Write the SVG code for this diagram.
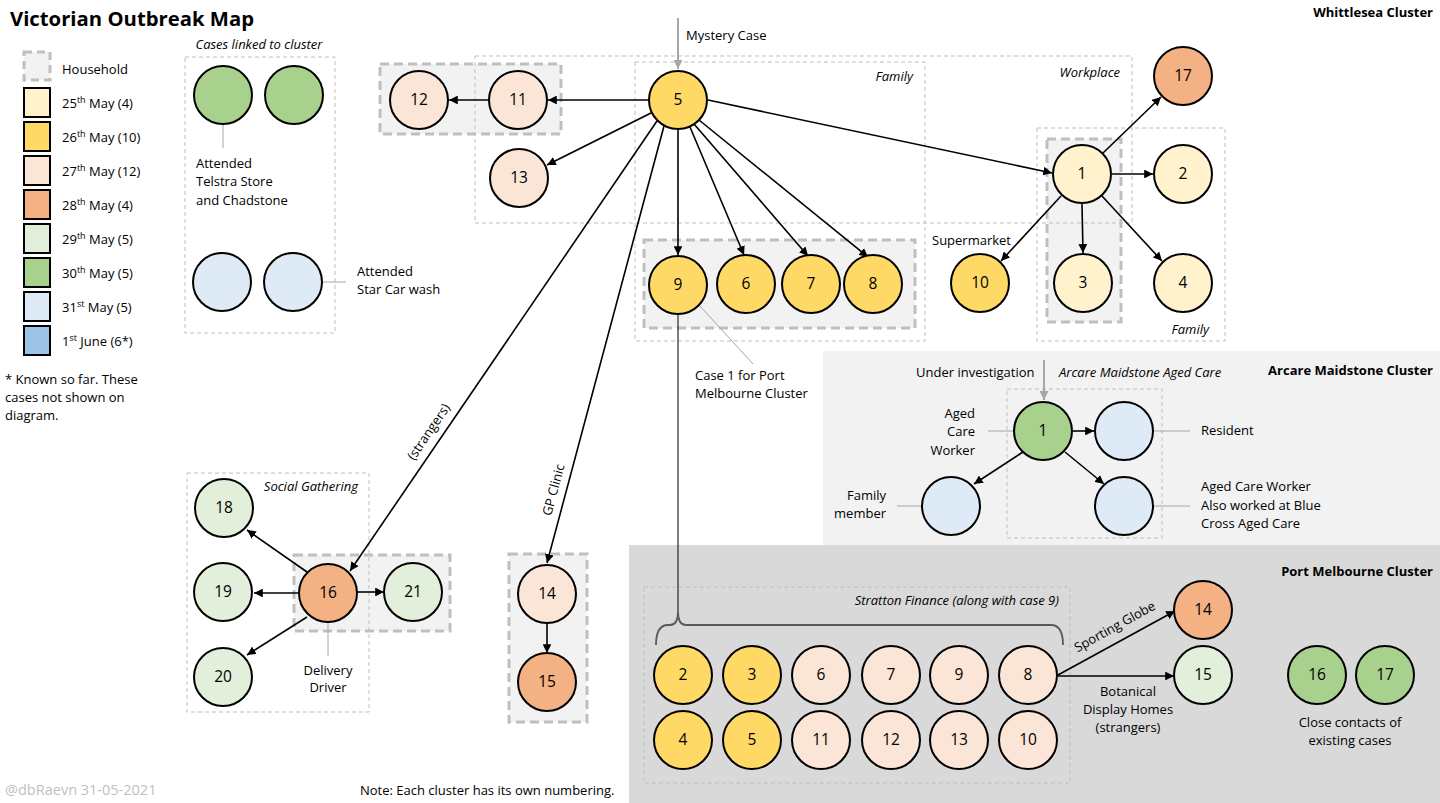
<svg xmlns="http://www.w3.org/2000/svg" width="1440" height="803" viewBox="0 0 1440 803">
<defs>
<style>
text{font-family:"Open Sans","Liberation Sans",sans-serif;font-size:13px;fill:#000}
.num{font-size:15.5px;text-anchor:middle}
.it{font-style:italic}
.b{font-weight:bold;font-size:13px}
.n{stroke:#000;stroke-width:2}
.d25{fill:#FFF2CC}.d26{fill:#FFD966}.d27{fill:#FBE5D6}.d28{fill:#F4B183}.d29{fill:#E2EFDA}.d30{fill:#A9D18E}.d31{fill:#DEEBF7}.d01{fill:#9DC3E6}
.hh{fill:#F2F2F2;stroke:#BFBFBF;stroke-width:3;stroke-dasharray:9 5}
.grp{fill:none;stroke:#BFBFBF;stroke-width:1;stroke-dasharray:4 3}
.a{stroke:#000;stroke-width:1.6;fill:none;marker-end:url(#ah)}
.ga{stroke:#A6A6A6;stroke-width:2;fill:none;marker-end:url(#gah)}
.g{stroke:#A6A6A6;stroke-width:1;fill:none}
.sup{font-size:9px}
</style>
<marker id="ah" viewBox="0 0 10 10" refX="10" refY="5" markerWidth="5.5" markerHeight="5.5" orient="auto"><path d="M0,0 L10,5 L0,10 z" fill="#000"/></marker>
<marker id="gah" viewBox="0 0 10 10" refX="10" refY="5" markerWidth="4.5" markerHeight="4.5" orient="auto"><path d="M0,0 L10,5 L0,10 z" fill="#A6A6A6"/></marker>
</defs>
<rect width="1440" height="803" fill="#fff"/>
<!-- cluster backgrounds -->
<rect x="823" y="351" width="617" height="194" fill="#F2F2F2"/>
<rect x="629" y="545" width="811" height="258" fill="#D9D9D9"/>

<!-- household boxes -->
<rect class="hh" x="380" y="64" width="181" height="70"/>
<rect class="hh" x="644" y="240" width="271" height="88"/>
<rect class="hh" x="1047" y="139" width="74" height="183"/>
<rect class="hh" x="294" y="555" width="156" height="76"/>
<rect class="hh" x="509" y="554" width="78" height="168"/>

<!-- group boxes -->
<rect class="grp" x="185" y="57" width="150" height="276"/>
<rect class="grp" x="475" y="56" width="657" height="167"/>
<rect class="grp" x="635" y="62" width="290" height="279"/>
<rect class="grp" x="1037" y="128" width="188" height="213"/>
<rect class="grp" x="187" y="473" width="182" height="239"/>
<rect class="grp" x="1007" y="389" width="155" height="149"/>
<rect class="grp" x="644" y="587" width="426" height="196"/>

<!-- title and legend -->
<text x="10" y="26" style="font-weight:bold;font-size:20.3px">Victorian Outbreak Map</text>
<g id="legend">
<rect x="24" y="52" width="26" height="28" fill="#F2F2F2" stroke="#BFBFBF" stroke-width="3" stroke-dasharray="8 5"/>
<text x="62" y="74">Household</text>
<rect class="n d25" x="24" y="88" width="26" height="29"/>
<text x="62" y="108">25<tspan class="sup" dy="-5">th</tspan><tspan dy="5"> May (4)</tspan></text>
<rect class="n d26" x="24" y="122" width="26" height="29"/>
<text x="62" y="142">26<tspan class="sup" dy="-5">th</tspan><tspan dy="5"> May (10)</tspan></text>
<rect class="n d27" x="24" y="156" width="26" height="29"/>
<text x="62" y="176">27<tspan class="sup" dy="-5">th</tspan><tspan dy="5"> May (12)</tspan></text>
<rect class="n d28" x="24" y="190" width="26" height="29"/>
<text x="62" y="210">28<tspan class="sup" dy="-5">th</tspan><tspan dy="5"> May (4)</tspan></text>
<rect class="n d29" x="24" y="224" width="26" height="29"/>
<text x="62" y="244">29<tspan class="sup" dy="-5">th</tspan><tspan dy="5"> May (5)</tspan></text>
<rect class="n d30" x="24" y="258" width="26" height="29"/>
<text x="62" y="278">30<tspan class="sup" dy="-5">th</tspan><tspan dy="5"> May (5)</tspan></text>
<rect class="n d31" x="24" y="292" width="26" height="29"/>
<text x="62" y="312">31<tspan class="sup" dy="-5">st</tspan><tspan dy="5"> May (5)</tspan></text>
<rect class="n d01" x="24" y="326" width="26" height="29"/>
<text x="62" y="346">1<tspan class="sup" dy="-5">st</tspan><tspan dy="5"> June (6*)</tspan></text>
<text x="5" y="384">* Known so far. These</text>
<text x="5" y="402">cases not shown on</text>
<text x="5" y="420">diagram.</text>
</g>

<!-- labels -->
<text class="b" x="1433" y="17" text-anchor="end">Whittlesea Cluster</text>
<text class="b" x="1433" y="375" text-anchor="end">Arcare Maidstone Cluster</text>
<text class="b" x="1433" y="576" text-anchor="end">Port Melbourne Cluster</text>
<text class="it" x="259" y="49" text-anchor="middle">Cases linked to cluster</text>
<text class="it" x="913" y="81" text-anchor="end">Family</text>
<text class="it" x="1120" y="77" text-anchor="end">Workplace</text>
<text class="it" x="1209" y="334" text-anchor="end">Family</text>
<text class="it" x="358" y="491" text-anchor="end">Social Gathering</text>
<text class="it" x="1059" y="377">Arcare Maidstone Aged Care</text>
<text class="it" x="1059" y="605" text-anchor="end">Stratton Finance (along with case 9)</text>
<text x="686" y="40">Mystery Case</text>
<text x="932" y="245">Supermarket</text>
<text x="196" y="168">Attended</text>
<text x="196" y="186">Telstra Store</text>
<text x="196" y="205">and Chadstone</text>
<text x="357" y="276">Attended</text>
<text x="357" y="294">Star Car wash</text>
<text x="695" y="380">Case 1 for Port</text>
<text x="695" y="398">Melbourne Cluster</text>
<text x="328" y="675" text-anchor="middle">Delivery</text>
<text x="328" y="692" text-anchor="middle">Driver</text>
<text x="916" y="377">Under investigation</text>
<text x="975" y="418" text-anchor="end">Aged</text>
<text x="975" y="436" text-anchor="end">Care</text>
<text x="975" y="455" text-anchor="end">Worker</text>
<text x="1201" y="435">Resident</text>
<text x="1201" y="491">Aged Care Worker</text>
<text x="1201" y="510">Also worked at Blue</text>
<text x="1201" y="528">Cross Aged Care</text>
<text x="886" y="500" text-anchor="end">Family</text>
<text x="886" y="518" text-anchor="end">member</text>
<text x="1128" y="696" text-anchor="middle">Botanical</text>
<text x="1128" y="714" text-anchor="middle">Display Homes</text>
<text x="1128" y="732" text-anchor="middle">(strangers)</text>
<text x="1350" y="727" text-anchor="middle">Close contacts of</text>
<text x="1350" y="745" text-anchor="middle">existing cases</text>
<text x="5" y="795" style="fill:#BFBFBF;font-size:14.5px">@dbRaevn 31-05-2021</text>
<text x="360" y="795">Note: Each cluster has its own numbering.</text>
<text x="429" y="436" text-anchor="middle" transform="rotate(-55.7 429 432)">(strangers)</text>
<text x="554" y="494" text-anchor="middle" transform="rotate(-74.9 554 490)">GP Clinic</text>
<text x="1115" y="631" text-anchor="middle" transform="rotate(-29 1115 627)">Sporting Globe</text>

<!-- connectors -->
<g id="connectors">
<line class="ga" x1="678" y1="18" x2="678" y2="69"/>
<line class="ga" x1="1044" y1="360" x2="1044" y2="400"/>
<line class="g" x1="223" y1="124" x2="223" y2="148"/>
<line class="g" x1="322" y1="282" x2="346" y2="282"/>
<line class="g" x1="700" y1="306" x2="753" y2="364"/>
<line class="g" x1="328" y1="622" x2="328" y2="656"/>
<line class="g" x1="988" y1="431" x2="1014" y2="431"/>
<line class="g" x1="1154" y1="431" x2="1190" y2="431"/>
<line class="g" x1="1154" y1="506" x2="1190" y2="506"/>
<line class="g" x1="897" y1="506" x2="922" y2="506"/>
<line stroke="#000" stroke-width="1" x1="678" y1="314" x2="678" y2="612"/>
<path d="M656,645 Q656,625 668,625 L670,625 Q678,625 678,612 Q678,625 686,625 L1051,625 Q1063,625 1063,645" fill="none" stroke="#595959" stroke-width="1.8"/>
<line class="a" x1="708" y1="100" x2="1052" y2="173"/>
<line class="a" x1="1103" y1="153" x2="1161" y2="97"/>
<line class="a" x1="1112" y1="174" x2="1153" y2="174"/>
<line class="a" x1="1082" y1="204" x2="1083" y2="253"/>
<line class="a" x1="1102" y1="196" x2="1162" y2="261"/>
<line class="a" x1="1061" y1="196" x2="1001" y2="261"/>
<line class="a" x1="648" y1="100" x2="548" y2="100"/>
<line class="a" x1="488" y1="100" x2="449" y2="100"/>
<line class="a" x1="651" y1="113" x2="547" y2="165"/>
<line class="a" x1="678" y1="130" x2="678" y2="255"/>
<line class="a" x1="690" y1="127" x2="744" y2="255"/>
<line class="a" x1="694" y1="124" x2="808" y2="256"/>
<line class="a" x1="699" y1="120" x2="868" y2="257"/>
<line class="a" x1="657" y1="121" x2="350" y2="571"/>
<line class="a" x1="664" y1="126" x2="547" y2="563"/>
<line class="a" x1="307" y1="572" x2="247" y2="530"/>
<line class="a" x1="299" y1="593" x2="254" y2="593"/>
<line class="a" x1="307" y1="617" x2="247" y2="655"/>
<line class="a" x1="357" y1="592" x2="384" y2="592"/>
<line class="a" x1="547" y1="624" x2="547" y2="653"/>
<line class="a" x1="1073" y1="431" x2="1094" y2="431"/>
<line class="a" x1="1023" y1="452" x2="974" y2="484"/>
<line class="a" x1="1065" y1="452" x2="1104" y2="484"/>
<line class="a" x1="1058" y1="675" x2="1175" y2="611"/>
<line class="a" x1="1058" y1="676" x2="1174" y2="676"/>
</g>

<!-- Whittlesea nodes -->
<g id="w5"><circle class="n d26" cx="678" cy="100" r="29"/><text class="num" x="678" y="105">5</text></g>
<g id="w11"><circle class="n d27" cx="518" cy="100" r="29"/><text class="num" x="518" y="105">11</text></g>
<g id="w12"><circle class="n d27" cx="419" cy="100" r="29"/><text class="num" x="419" y="105">12</text></g>
<g id="w13"><circle class="n d27" cx="519" cy="178" r="29"/><text class="num" x="519" y="183">13</text></g>
<g id="w9"><circle class="n d26" cx="678" cy="285" r="29"/><text class="num" x="678" y="290">9</text></g>
<g id="w6"><circle class="n d26" cx="746" cy="284" r="29"/><text class="num" x="746" y="289">6</text></g>
<g id="w7"><circle class="n d26" cx="811" cy="284" r="29"/><text class="num" x="811" y="289">7</text></g>
<g id="w8"><circle class="n d26" cx="873" cy="284" r="29"/><text class="num" x="873" y="289">8</text></g>
<g id="w1"><circle class="n d25" cx="1082" cy="174" r="29"/><text class="num" x="1082" y="179">1</text></g>
<g id="w2"><circle class="n d25" cx="1183" cy="174" r="29"/><text class="num" x="1183" y="179">2</text></g>
<g id="w3"><circle class="n d25" cx="1083" cy="283" r="29"/><text class="num" x="1083" y="288">3</text></g>
<g id="w4"><circle class="n d25" cx="1183" cy="283" r="29"/><text class="num" x="1183" y="288">4</text></g>
<g id="w10"><circle class="n d26" cx="980" cy="283" r="29"/><text class="num" x="980" y="288">10</text></g>
<g id="w17"><circle class="n d28" cx="1183" cy="76" r="29"/><text class="num" x="1183" y="81">17</text></g>
<g id="w16"><circle class="n d28" cx="328" cy="593" r="29"/><text class="num" x="328" y="598">16</text></g>
<g id="w18"><circle class="n d29" cx="224" cy="508" r="29"/><text class="num" x="224" y="513">18</text></g>
<g id="w19"><circle class="n d29" cx="223" cy="592" r="29"/><text class="num" x="223" y="597">19</text></g>
<g id="w20"><circle class="n d29" cx="223" cy="677" r="29"/><text class="num" x="223" y="682">20</text></g>
<g id="w21"><circle class="n d29" cx="413" cy="592" r="29"/><text class="num" x="413" y="597">21</text></g>
<g id="w14"><circle class="n d27" cx="547" cy="594" r="29"/><text class="num" x="547" y="599">14</text></g>
<g id="w15"><circle class="n d28" cx="547" cy="682" r="29"/><text class="num" x="547" y="687">15</text></g>
<g id="linked-green-1"><circle class="n d30" cx="223" cy="95" r="29"/></g>
<g id="linked-green-2"><circle class="n d30" cx="294" cy="95" r="29"/></g>
<g id="linked-blue-1"><circle class="n d31" cx="222" cy="282" r="29"/></g>
<g id="linked-blue-2"><circle class="n d31" cx="293" cy="282" r="29"/></g>

<!-- Arcare nodes -->
<g id="a1"><circle class="n d30" cx="1043" cy="431" r="29"/><text class="num" x="1043" y="436">1</text></g>
<g id="a-resident"><circle class="n d31" cx="1124" cy="431" r="29"/></g>
<g id="a-worker"><circle class="n d31" cx="1124" cy="506" r="29"/></g>
<g id="a-family"><circle class="n d31" cx="951" cy="506" r="29"/></g>

<!-- Port Melbourne nodes -->
<g id="p2"><circle class="n d26" cx="683" cy="675" r="29"/><text class="num" x="683" y="680">2</text></g>
<g id="p3"><circle class="n d26" cx="752" cy="675" r="29"/><text class="num" x="752" y="680">3</text></g>
<g id="p6"><circle class="n d27" cx="821" cy="675" r="29"/><text class="num" x="821" y="680">6</text></g>
<g id="p7"><circle class="n d27" cx="891" cy="675" r="29"/><text class="num" x="891" y="680">7</text></g>
<g id="p9"><circle class="n d27" cx="959" cy="675" r="29"/><text class="num" x="959" y="680">9</text></g>
<g id="p8"><circle class="n d27" cx="1028" cy="675" r="29"/><text class="num" x="1028" y="680">8</text></g>
<g id="p4"><circle class="n d26" cx="683" cy="740" r="29"/><text class="num" x="683" y="745">4</text></g>
<g id="p5"><circle class="n d26" cx="752" cy="740" r="29"/><text class="num" x="752" y="745">5</text></g>
<g id="p11"><circle class="n d27" cx="821" cy="740" r="29"/><text class="num" x="821" y="745">11</text></g>
<g id="p12"><circle class="n d27" cx="891" cy="740" r="29"/><text class="num" x="891" y="745">12</text></g>
<g id="p13"><circle class="n d27" cx="959" cy="740" r="29"/><text class="num" x="959" y="745">13</text></g>
<g id="p10"><circle class="n d27" cx="1028" cy="740" r="29"/><text class="num" x="1028" y="745">10</text></g>
<g id="p14"><circle class="n d28" cx="1203" cy="610" r="29"/><text class="num" x="1203" y="615">14</text></g>
<g id="p15"><circle class="n d29" cx="1203" cy="675" r="29"/><text class="num" x="1203" y="680">15</text></g>
<g id="p16"><circle class="n d30" cx="1317" cy="675" r="29"/><text class="num" x="1317" y="680">16</text></g>
<g id="p17"><circle class="n d30" cx="1385" cy="675" r="29"/><text class="num" x="1385" y="680">17</text></g>
</svg>
